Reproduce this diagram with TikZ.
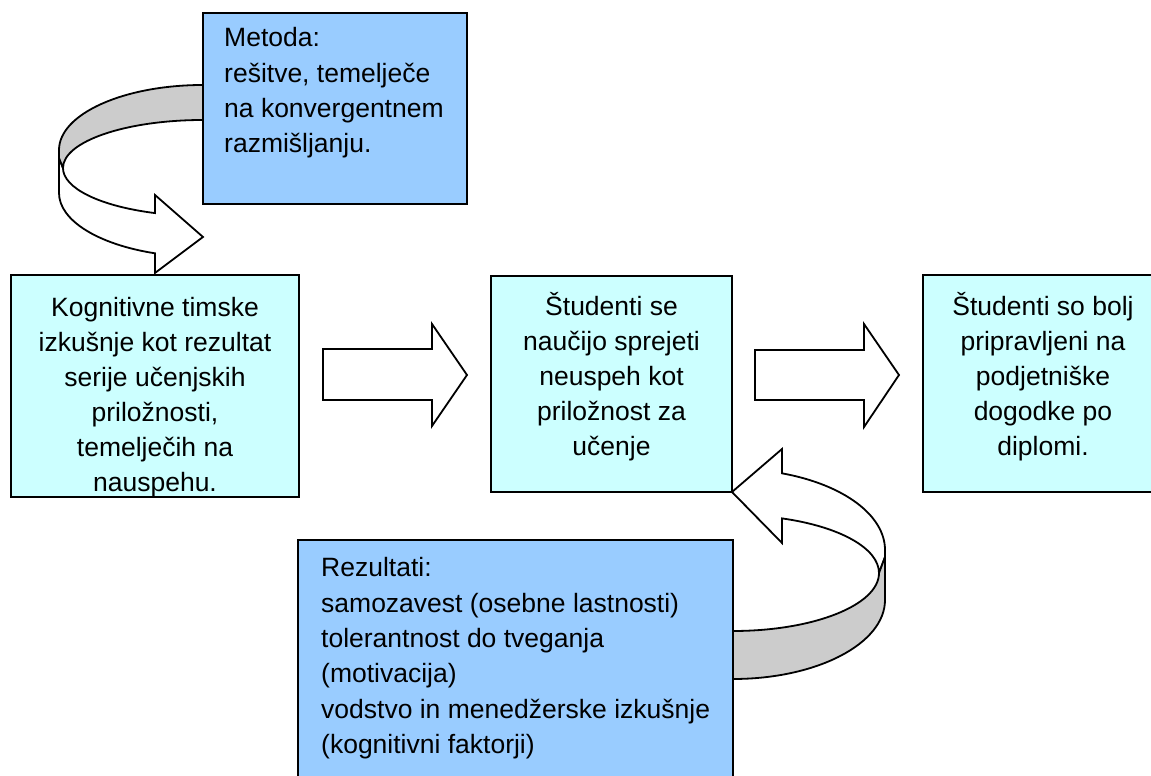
\documentclass[tikz,border=0pt]{standalone}
\usepackage{fontspec}
\setmainfont{Liberation Sans}
\definecolor{boxblue}{HTML}{99CCFF}
\definecolor{boxcyan}{HTML}{CCFFFF}
\definecolor{ribbon}{HTML}{CCCCCC}
\begin{document}
\begin{tikzpicture}[x=1pt,y=1pt,
  outline/.style={draw=black, line width=1.8pt, line join=miter},
  blockarrow/.style={outline, fill=white},
  backside/.style={outline, fill=ribbon},
  stagebox/.style={outline, fill=boxcyan, inner sep=0pt},
  notebox/.style={outline, fill=boxblue, inner sep=0pt},
  boxtext/.style={inner sep=0pt, align=center, anchor=north,
    font=\fontsize{26.5}{35}\selectfont},
  notetext/.style={inner sep=0pt, align=left, anchor=north west,
    font=\fontsize{26.5}{35.3}\selectfont}
]
\useasboundingbox (0,0) rectangle (1151,776);
\clip (0,0) rectangle (1151,776);

% upper loop: front face with its head, then the shaded inside of the band
\draw[blockarrow] (59,618) -- (59,583)
  arc[start angle=180,end angle=250.53,x radius=144,y radius=64]
  -- (155,503) -- (203,539) -- (155,581) -- (155,562.9)
  arc[start angle=249.95,end angle=180,x radius=140,y radius=48] -- cycle;
\draw[backside] (203,691)
  arc[start angle=90,end angle=180,x radius=144,y radius=65]
  -- (59,618) -- (63,608)
  arc[start angle=180,end angle=90,x radius=140,y radius=48] -- cycle;

% lower loop: front face with its head, then the shaded inside of the band
\draw[blockarrow] (782,327) -- (732,284) -- (782,233) -- (782,257.6)
  arc[start angle=70.39,end angle=0,x radius=146,y radius=58]
  -- (885,219) -- (885,226)
  arc[start angle=0,end angle=71.19,x radius=152,y radius=81] -- cycle;
\draw[backside] (885,219) -- (885,176)
  arc[start angle=0,end angle=-90,x radius=152,y radius=79]
  -- (733,145)
  arc[start angle=-90,end angle=0,x radius=146,y radius=58] -- cycle;

% block arrows between the stages
\draw[blockarrow] (323,427) -- (432,427) -- (432,452) -- (467,401)
  -- (432,350) -- (432,376) -- (323,376) -- cycle;
\draw[blockarrow] (755,426) -- (864,426) -- (864,452) -- (899,401)
  -- (864,349) -- (864,376) -- (755,376) -- cycle;

% boxes
\node[notebox, minimum width=264pt, minimum height=191pt] (metoda) at (335,667.5) {};
\node[stagebox, minimum width=288pt, minimum height=222pt] (kognitivne) at (155,390) {};
\node[stagebox, minimum width=241pt, minimum height=216pt] (neuspeh) at (611.5,392) {};
\node[stagebox, minimum width=240pt, minimum height=217pt] (pripravljeni) at (1043,392.5) {};
\node[notebox, minimum width=435pt, minimum height=256pt] (rezultati) at (515.5,108) {};

% texts
\node[notetext] (metodatext) at (224,754.3) {\rule{0pt}{25pt}Metoda:\\
  rešitve, temelječe\\ na konvergentnem\\ razmišljanju.};
\node[boxtext] (kognitivnetext) at (155,485) {\rule{0pt}{25pt}Kognitivne timske\\
  izkušnje kot rezultat\\ serije učenjskih\\ priložnosti,\\ temelječih na\\ nauspehu.};
\node[boxtext] (neuspehtext) at (611.5,486) {\rule{0pt}{25pt}Študenti se\\
  naučijo sprejeti\\ neuspeh kot\\ priložnost za\\ učenje};
\node[boxtext] (pripravljenitext) at (1043,486) {\rule{0pt}{25pt}Študenti so bolj\\
  pripravljeni na\\ podjetniške\\ dogodke po\\ diplomi.};
\node[notetext] (rezultatitext) at (321,224.3) {\rule{0pt}{25pt}Rezultati:\\
  samozavest (osebne lastnosti)\\ tolerantnost do tveganja\\ (motivacija)\\
  vodstvo in menedžerske izkušnje\\ (kognitivni faktorji)};
\end{tikzpicture}
\end{document}
